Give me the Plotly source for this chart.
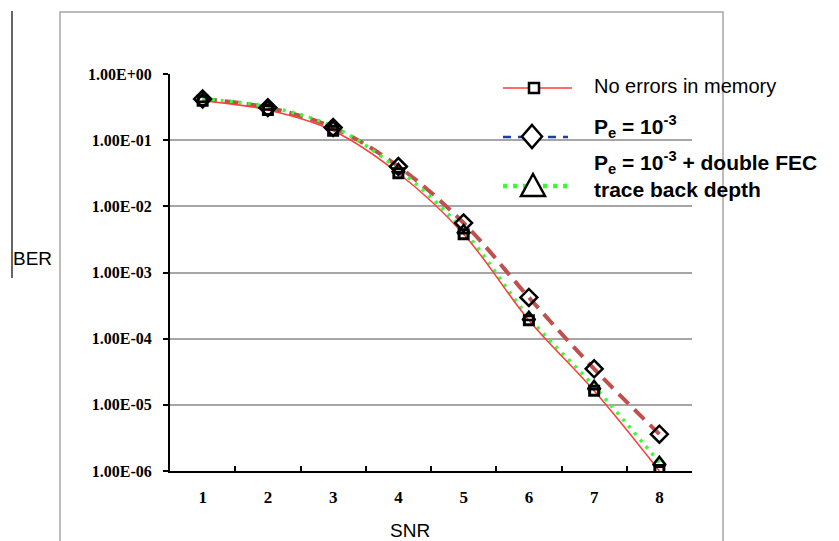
import plotly.graph_objects as go

# ---- data ----
snr = ["1", "2", "3", "4", "5", "6", "7", "8"]
ber_no_errors = [0.395, 0.286, 0.139, 0.0316, 0.0038, 1.9e-4, 1.63e-5, 1.0e-6]
ber_pe = [0.42, 0.31, 0.155, 0.040, 0.0056, 4.2e-4, 3.5e-5, 3.6e-6]
ber_pe_fec = [0.42, 0.32, 0.16, 0.036, 0.0043, 2.1e-4, 1.9e-5, 1.35e-6]
ytick_vals = [1, 1e-1, 1e-2, 1e-3, 1e-4, 1e-5, 1e-6]
ytick_text = ["1.00E+00", "1.00E-01", "1.00E-02", "1.00E-03", "1.00E-04", "1.00E-05", "1.00E-06"]

# page body has an 8px margin: figure is placed at (8, 8)
OFF = 8
W, H = 839 - OFF, 541 - OFF
def px(x):
    return (x - OFF) / W
def py(y):
    return (H - (y - OFF)) / H

fig = go.Figure()

fig.add_trace(go.Scatter(
    x=snr, y=ber_pe, mode="lines", line=dict(color="#C0504D", width=4, dash="14px,8px", shape="spline"),
    showlegend=False, hoverinfo="skip"))
fig.add_trace(go.Scatter(
    x=snr, y=ber_pe_fec, mode="lines", line=dict(color="#33FF33", width=3.5, dash="3px,6px", shape="spline"),
    showlegend=False, hoverinfo="skip"))
fig.add_trace(go.Scatter(
    x=snr, y=ber_no_errors, mode="lines", line=dict(color="#FF3B3B", width=1.5, shape="spline"),
    showlegend=False, hoverinfo="skip"))
# markers
fig.add_trace(go.Scatter(
    x=snr, y=ber_pe, mode="markers",
    marker=dict(symbol="diamond-open", size=13, line=dict(color="black", width=2.5), color="black"),
    showlegend=False))
fig.add_trace(go.Scatter(
    x=snr, y=ber_pe_fec, mode="markers",
    marker=dict(symbol="triangle-up-open", size=11, line=dict(color="black", width=2.5), color="black"),
    showlegend=False))
fig.add_trace(go.Scatter(
    x=snr, y=ber_no_errors, mode="markers",
    marker=dict(symbol="square-open", size=9, line=dict(color="black", width=3), color="black"),
    showlegend=False))

shapes = []
# outer chart border
shapes.append(dict(type="rect", xref="paper", yref="paper", x0=px(60), x1=px(723), y0=py(560), y1=py(12),
                   line=dict(color="#A6A6A6", width=1.5), fillcolor="rgba(0,0,0,0)", layer="below"))
# BER vertical line
shapes.append(dict(type="line", xref="paper", yref="paper", x0=px(12), x1=px(12), y0=py(11), y1=py(278),
                   line=dict(color="black", width=1.2)))
# legend glyphs
shapes.append(dict(type="line", xref="paper", yref="paper", x0=px(503), x1=px(572), y0=py(88), y1=py(88),
                   line=dict(color="#FF3B3B", width=1.5)))
shapes.append(dict(type="rect", xref="paper", yref="paper", x0=px(529), x1=px(539), y0=py(93), y1=py(83),
                   line=dict(color="black", width=2.5), fillcolor="white"))
shapes.append(dict(type="line", xref="paper", yref="paper", x0=px(503), x1=px(568), y0=py(137), y1=py(137),
                   line=dict(color="#1F3F9F", width=2.5, dash="8px,7px")))
d_path = "M {0},{1} L {2},{3} L {0},{4} L {5},{3} Z".format(px(532), py(125), px(542), py(136.5), py(148), px(522))
shapes.append(dict(type="path", xref="paper", yref="paper", path=d_path,
                   line=dict(color="black", width=2.5), fillcolor="white"))
shapes.append(dict(type="line", xref="paper", yref="paper", x0=px(503), x1=px(570), y0=py(186), y1=py(186),
                   line=dict(color="#33FF33", width=4.5, dash="4px,6px")))
t_path = "M {0},{1} L {2},{3} L {4},{3} Z".format(px(533), py(174), px(545), py(196), px(521))
shapes.append(dict(type="path", xref="paper", yref="paper", path=t_path,
                   line=dict(color="black", width=2.5), fillcolor="white"))

annotations = [
    dict(text="BER", xref="paper", yref="paper", x=px(11), y=py(258), xanchor="left", yanchor="middle",
         showarrow=False, font=dict(family="Liberation Sans, Arial", size=19, color="black")),
    dict(text="SNR", xref="paper", yref="paper", x=px(410), y=py(530), xanchor="center", yanchor="middle",
         showarrow=False, font=dict(family="Liberation Sans, Arial", size=19, color="black")),
    dict(text="No errors in memory", xref="paper", yref="paper", x=px(592), y=py(86), xanchor="left",
         yanchor="middle", showarrow=False, font=dict(family="Liberation Sans, Arial", size=20, color="black")),
    dict(text="<b>P<sub>e</sub> = 10<sup>-3</sup></b>", xref="paper", yref="paper", x=px(592), y=py(126),
         xanchor="left", yanchor="middle", showarrow=False,
         font=dict(family="Liberation Sans, Arial", size=21, color="black")),
    dict(text="<b>P<sub>e</sub> = 10<sup>-3</sup> + double FEC</b>", xref="paper", yref="paper", x=px(592),
         y=py(162), xanchor="left", yanchor="middle", showarrow=False,
         font=dict(family="Liberation Sans, Arial", size=21, color="black")),
    dict(text="<b>trace back depth</b>", xref="paper", yref="paper", x=px(592), y=py(189), xanchor="left",
         yanchor="middle", showarrow=False, font=dict(family="Liberation Sans, Arial", size=21, color="black")),
]

fig.update_layout(
    width=W, height=H,
    margin=dict(l=0, r=0, t=0, b=0),
    paper_bgcolor="white", plot_bgcolor="white",
    showlegend=False,
    shapes=shapes, annotations=annotations,
    xaxis=dict(
        type="category", categoryorder="array", categoryarray=snr,
        domain=[px(170), px(692)], range=[-0.5, 7.5],
        tickson="boundaries", ticks="inside", ticklen=5, tickwidth=1.5, tickcolor="black",
        showline=True, linecolor="black", linewidth=2, showgrid=False, zeroline=False,
        tickfont=dict(family="Liberation Serif, Times New Roman", size=17, color="black", weight="bold"),
        automargin=False, ticklabelstandoff=10,
    ),
    yaxis=dict(
        type="log", domain=[py(471), py(74)], range=[-6, 0],
        tickvals=ytick_vals, ticktext=ytick_text,
        ticks="outside", ticklen=5, tickwidth=1.5, tickcolor="black",
        showline=True, linecolor="black", linewidth=2,
        showgrid=True, gridcolor="#A6A6A6", gridwidth=1.5, zeroline=False,
        tickfont=dict(family="Liberation Serif, Times New Roman", size=16, color="black", weight="bold"),
        automargin=False, ticklabelstandoff=8,
    ),
)

fig.write_html("out.html")
